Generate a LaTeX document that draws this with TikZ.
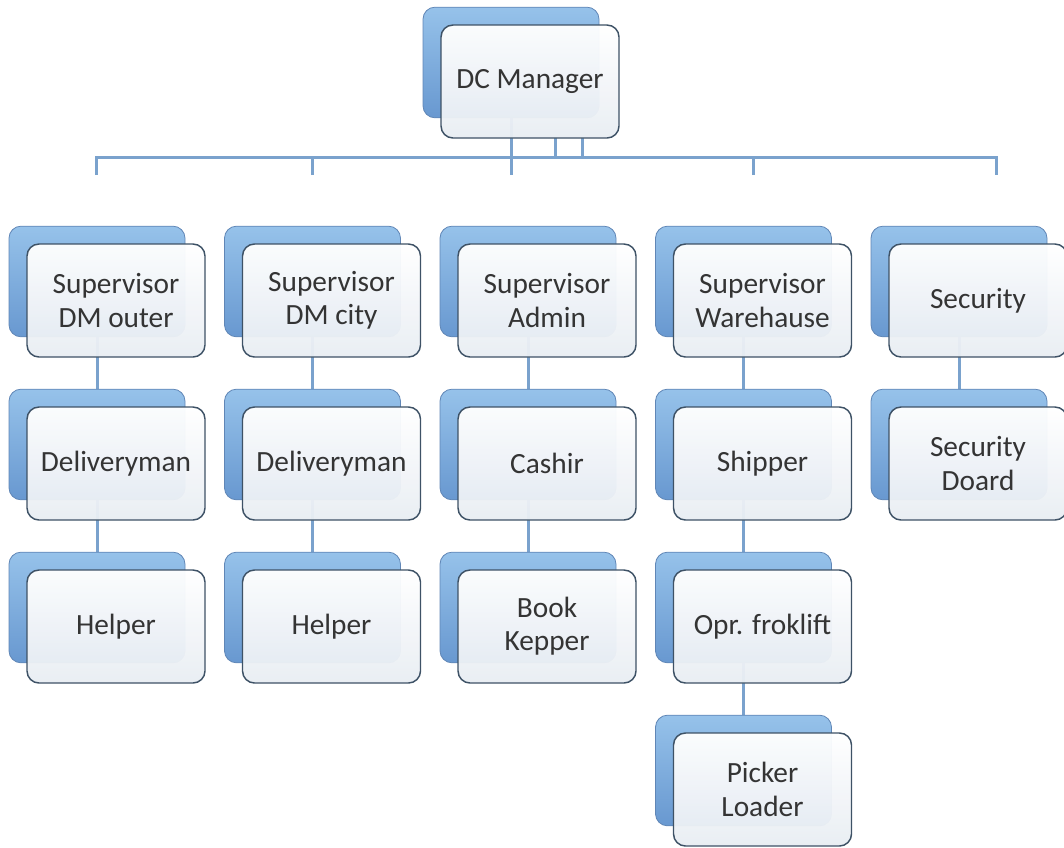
\documentclass[tikz,border=0pt]{standalone}
\usepackage{fontspec}
\setmainfont{Carlito}
\usepackage{tikz}

\definecolor{linkblue}{RGB}{122,162,205}
\definecolor{backtop}{RGB}{150,194,234}
\definecolor{backbot}{RGB}{104,152,208}
\definecolor{backline}{RGB}{96,134,182}
\definecolor{frontbot}{RGB}{232,237,243}
\definecolor{frontline}{RGB}{62,82,102}
\definecolor{textgray}{RGB}{52,52,52}

\pgfdeclarelayer{bg}
\pgfsetlayers{bg,main}

\tikzset{
  back/.style={draw=backline, line width=0.6pt, rounded corners=9pt,
    top color=backtop, bottom color=backbot,
    minimum width=132pt, minimum height=83pt, inner sep=0pt},
  front/.style={draw=frontline, line width=1.1pt, rounded corners=9pt,
    top color=white, bottom color=frontbot, fill opacity=0.96, text opacity=1,
    minimum width=133.5pt, minimum height=84.75pt, inner sep=0pt,
    align=center, text=textgray, font=\fontsize{22}{25}\selectfont},
  link/.style={draw=linkblue, line width=2.25pt}
}

% name, x, y, text
\newcommand{\orgbox}[4]{%
  \node[back] (#1b) at (#2-19,#3-19) {};
  \node[front] (#1) at (#2,#3) {#4};
}

\begin{document}
\begin{tikzpicture}[x=0.75pt,y=0.75pt,yscale=-1,xscale=1]
\useasboundingbox (0,0) rectangle (1064,847);

% top
\orgbox{dc}{530}{81.5}{DC Manager}

% column 1
\orgbox{svo}{116}{300.5}{Supervisor\\DM outer}
\orgbox{dlo}{116}{463.5}{Deliveryman}
\orgbox{hpo}{116}{626.5}{Helper}
% column 2
\orgbox{svc}{331.5}{300.5}{Supervisor\\DM city}
\orgbox{dlc}{331.5}{463.5}{Deliveryman}
\orgbox{hpc}{331.5}{626.5}{Helper}
% column 3
\orgbox{sva}{547}{300.5}{Supervisor\\Admin}
\orgbox{csh}{547}{463.5}{Cashir}
\orgbox{bkp}{547}{626.5}{Book\\Kepper}
% column 4
\orgbox{svw}{762.5}{300.5}{Supervisor\\Warehause}
\orgbox{shp}{762.5}{463.5}{Shipper}
\orgbox{opr}{762.5}{626.5}{Opr. froklift}
\orgbox{pkl}{762.5}{789.5}{Picker\\Loader}
% column 5
\orgbox{sec}{978}{300.5}{Security}
\orgbox{sbd}{978}{463.5}{Security\\Doard}

% bar
\coordinate (bar) at (511,157);
\coordinate (t1) at (96,175);
\coordinate (t2) at (312,175);
\coordinate (t3) at (511,175);
\coordinate (t4) at (753,175);
\coordinate (t5) at (996,175);
\coordinate (x1) at (555,137);
\coordinate (x2) at (582,137);

\begin{pgfonlayer}{bg}
\draw[link] (dcb) -- (t3);
\draw[link] (x1) -- (x1 |- bar);
\draw[link] (x2) -- (x2 |- bar);
\draw[link] (t1) -- (t1 |- bar) -- (t5 |- bar) -- (t5);
\draw[link] (t2) -- (t2 |- bar);
\draw[link] (t4) -- (t4 |- bar);
% columns
\draw[link] (svob) -- (dlob) -- (hpob);
\draw[link] (svcb) -- (dlcb) -- (hpcb);
\draw[link] (svab) -- (cshb) -- (bkpb);
\draw[link] (svwb) -- (shpb) -- (oprb) -- (pklb);
\draw[link] (secb) -- (sbdb);
\end{pgfonlayer}

\end{tikzpicture}
\end{document}
